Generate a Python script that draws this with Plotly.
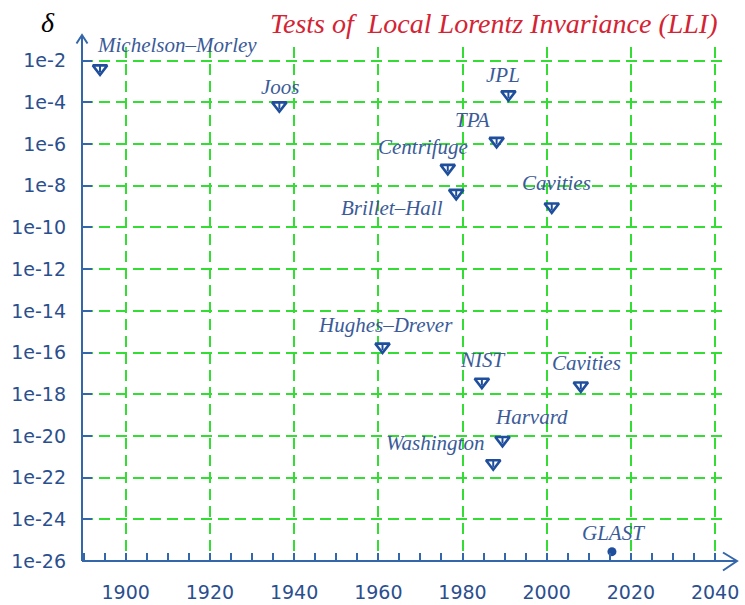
import math
import plotly.graph_objects as go

# ---------------- data ----------------
experiments = ["Michelson–Morley", "Joos", "JPL", "TPA", "Centrifuge", "Brillet–Hall",
               "Cavities", "Hughes–Drever", "NIST", "Cavities", "Harvard", "Washington"]
years = [1893.9, 1936.5, 1990.9, 1988.1, 1976.5, 1978.5,
         2001.2, 1961.0, 1984.6, 2008.1, 1989.5, 1987.3]
delta = [4.2e-3, 7.1e-5, 2.4e-4, 1.4e-6, 7.1e-8, 4.5e-9,
         1.0e-9, 1.9e-16, 3.9e-18, 2.6e-18, 6.3e-21, 4.8e-22]

future_names = ["GLAST"]
future_years = [2015.5]
future_delta = [2.8e-26]

y_tickvals = [1e-2, 1e-4, 1e-6, 1e-8, 1e-10, 1e-12, 1e-14, 1e-16,
              1e-18, 1e-20, 1e-22, 1e-24, 1e-26]
y_ticktext = ["1e-2", "1e-4", "1e-6", "1e-8", "1e-10", "1e-12", "1e-14", "1e-16",
              "1e-18", "1e-20", "1e-22", "1e-24", "1e-26"]
x_tickvals = [1900, 1920, 1940, 1960, 1980, 2000, 2020, 2040]
x_ticktext = ["1900", "1920", "1940", "1960", "1980", "2000", "2020", "2040"]

title_text = "Tests of  Local Lorentz Invariance (LLI)"
y_title = "δ"

# ---------------- styling / layout (pixel geometry) ----------------
W, H = 745, 605
# plot-area edges in page pixels
P_L, P_R, P_T, P_B = 82, 722, 47, 561
ML, MR, MT, MB = P_L, W - P_R, P_T, H - P_B
PW, PH = P_R - P_L, P_B - P_T

BLUE_AX = "#3466aa"
BLUE_MK = "#1f4f9c"
BLUE_TXT = "#3b5b98"
TICK_TXT = "#2b4f8e"
GREEN = "#33dd33"
RED = "#d42434"

# label placement offsets (dx, dy in px, xanchor) relative to marker centres
label_style = [(-5, 24, "left"), (1, 18, "center"), (-5, 19, "center"), (-24, 21, "center"),
               (-25, 21, "center"), (-64, -15, "center"), (5, 24, "center"), (3, 22, "center"),
               (1, 22, "center"), (6, 23, "center"), (29, 23, "center"), (-58, 20, "center")]
future_label_style = [(2, 19, "center")]


def px(xp):
    return (xp - P_L) / PW


def py(yp):
    return (P_B - yp) / PH


fig = go.Figure()

fig.add_trace(go.Scatter(
    x=years, y=delta, mode="markers",
    marker=dict(symbol="triangle-down", size=12.5, color="white",
                line=dict(color=BLUE_MK, width=2.6)),
    hoverinfo="skip", showlegend=False))
fig.add_trace(go.Scatter(
    x=years, y=delta, mode="markers",
    marker=dict(symbol="line-ns", size=5, color=BLUE_MK,
                line=dict(color=BLUE_MK, width=2)),
    hoverinfo="skip", showlegend=False))
fig.add_trace(go.Scatter(
    x=future_years, y=future_delta, mode="markers",
    marker=dict(symbol="circle", size=9, color=BLUE_MK),
    hoverinfo="skip", showlegend=False))

label_font = dict(family="Liberation Serif", size=21, color=BLUE_TXT, style="italic")
for name, xv, yv, (dx, dy, anc) in zip(experiments, years, delta, label_style):
    fig.add_annotation(x=xv, y=math.log10(yv), xref="x", yref="y", text=name,
                       showarrow=False, xanchor=anc, yanchor="middle",
                       xshift=dx, yshift=dy, font=label_font)
for name, xv, yv, (dx, dy, anc) in zip(future_names, future_years, future_delta, future_label_style):
    fig.add_annotation(x=xv, y=math.log10(yv), xref="x", yref="y", text=name,
                       showarrow=False, xanchor=anc, yanchor="middle",
                       xshift=dx, yshift=dy, font=label_font)

# title and axis symbol
fig.add_annotation(x=px(494), y=py(24), xref="paper", yref="paper",
                   text=title_text, showarrow=False, xanchor="center", yanchor="middle",
                   font=dict(family="Liberation Serif", size=28, color=RED, style="italic"))
fig.add_annotation(x=px(48), y=py(23), xref="paper", yref="paper",
                   text=y_title, showarrow=False, xanchor="center", yanchor="middle",
                   font=dict(family="Liberation Serif", size=28, color="black", style="italic"))

# axis lines with arrow heads
axis_line = dict(color=BLUE_AX, width=2)
fig.add_shape(type="line", xref="paper", yref="paper", x0=0, y0=0, x1=px(737), y1=0, line=axis_line)
fig.add_shape(type="line", xref="paper", yref="paper", x0=0, y0=0, x1=0, y1=py(35), line=axis_line)
fig.add_shape(type="path", xref="paper", yref="paper",
              path=f"M{px(723)},{py(552.5)} L{px(737)},{py(561)} L{px(723)},{py(570.5)}",
              line=axis_line)
fig.add_shape(type="path", xref="paper", yref="paper",
              path=f"M{px(76.5)},{py(43.5)} L{px(82)},{py(35)} L{px(87.5)},{py(43.5)}",
              line=axis_line)

x0 = 1900 + (P_L - 125.7) / 4.21
x1 = 1900 + (P_R - 125.7) / 4.21
ytop = -2 + (60.7 - P_T) / 20.85

fig.update_xaxes(
    range=[x0, x1], tickvals=x_tickvals, ticktext=x_ticktext,
    showline=False, zeroline=False, automargin=False,
    ticks="inside", ticklen=8, tickwidth=1.5, tickcolor=BLUE_AX,
    showgrid=True, gridcolor=GREEN, gridwidth=2, griddash="11px,6px",
    tickfont=dict(family="DejaVu Sans", size=19, color=TICK_TXT),
    ticklabelstandoff=18,
    minor=dict(tick0=1900, dtick=5, ticks="inside", ticklen=8, tickwidth=1.5,
               tickcolor=BLUE_AX, showgrid=False),
)
fig.update_yaxes(
    type="log", range=[-26, ytop], tickvals=y_tickvals, ticktext=y_ticktext,
    showline=False, zeroline=False, automargin=False,
    ticks="inside", ticklen=10, tickwidth=1.5, tickcolor=BLUE_AX,
    showgrid=True, gridcolor=GREEN, gridwidth=2, griddash="11px,6px",
    tickfont=dict(family="DejaVu Sans", size=19, color=TICK_TXT),
    ticklabelstandoff=15,
)

fig.update_layout(
    width=W, height=H, margin=dict(l=ML, r=MR, t=MT, b=MB),
    paper_bgcolor="white", plot_bgcolor="white", showlegend=False,
)

fig.write_html("out.html", config={"displayModeBar": False},
               post_script="document.body.style.margin='0';document.body.style.overflow='hidden';")
